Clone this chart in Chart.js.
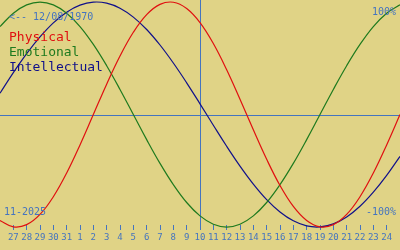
<!DOCTYPE html>
<html>
<head>
<meta charset="utf-8">
<script src="https://cdn.jsdelivr.net/npm/chart.js@4"></script>
<style>
  body { margin: 0; background: #e0d386; }
  #wrap { width: 400px; height: 250px; position: relative; }
</style>
</head>
<body>
<div id="wrap"><canvas id="bio"></canvas></div>
<script>
// day-of-month labels, 27 Oct .. 24 Nov 2025 (index 0..28)
var dayLabels = [27,28,29,30,31,1,2,3,4,5,6,7,8,9,10,11,12,13,14,15,16,17,18,19,20,21,22,23,24];
var todayIndex = 14; // 10 Nov

// curve values for index -1 .. 29 (one per day, incl. the half-visible edges)
var physical = [-0.942,-0.998,-0.979,-0.888,-0.731,-0.520,-0.270,0,0.270,0.520,0.731,0.888,0.979,0.998,0.942,0.817,0.631,0.398,0.136,-0.136,-0.398,-0.631,-0.817,-0.942,-0.998,-0.979,-0.888,-0.731,-0.520,-0.270,0];
var emotional = [0.782,0.901,0.975,1,0.975,0.901,0.782,0.623,0.434,0.223,0,-0.223,-0.434,-0.623,-0.782,-0.901,-0.975,-1,-0.975,-0.901,-0.782,-0.623,-0.434,-0.223,0,0.223,0.434,0.623,0.782,0.901,0.975];
var intellectual = [0.189,0.372,0.541,0.690,0.815,0.910,0.972,0.999,0.990,0.945,0.866,0.756,0.618,0.458,0.282,0.095,-0.095,-0.282,-0.458,-0.618,-0.756,-0.866,-0.945,-0.990,-0.999,-0.972,-0.910,-0.815,-0.690,-0.541,-0.372];

var blue = '#4474bf';
var mono = '"DejaVu Sans Mono", monospace';

function pts(arr) {
  return arr.map(function(v, i) { return { x: i - 1, y: v }; });
}

var overlay = {
  id: 'overlay',
  beforeDatasetsDraw: function(chart) {
    var c = chart.ctx, xs = chart.scales.x, ys = chart.scales.y;
    var y0 = Math.round(ys.getPixelForValue(0)) + 0.5;
    var xt = Math.round(xs.getPixelForValue(todayIndex)) + 0.5;
    c.save();
    c.strokeStyle = blue;
    c.lineWidth = 1;
    c.beginPath();
    c.moveTo(0, y0); c.lineTo(chart.width, y0);
    c.moveTo(xt, 0); c.lineTo(xt, chart.chartArea.bottom + 5);
    c.stroke();
    c.restore();
  },
  afterDraw: function(chart) {
    var c = chart.ctx;
    c.save();
    c.textBaseline = 'middle';
    c.font = '10px ' + mono;
    c.fillStyle = blue;
    c.textAlign = 'left';
    c.fillText('<-- 12/08/1970', 9, 17);
    c.fillText('11-2025', 4, 212);
    c.textAlign = 'right';
    c.fillText('100%', 396, 12);
    c.fillText('-100%', 396, 212);
    c.textAlign = 'left';
    c.font = '13px ' + mono;
    c.fillStyle = '#e01010';
    c.fillText('Physical', 9, 38);
    c.fillStyle = '#1e7a1e';
    c.fillText('Emotional', 9, 53);
    c.fillStyle = '#10108a';
    c.fillText('Intellectual', 9, 68);
    c.restore();
  }
};

new Chart(document.getElementById('bio'), {
  type: 'line',
  data: {
    datasets: [
      { label: 'Physical', data: pts(physical), borderColor: '#e01010' },
      { label: 'Emotional', data: pts(emotional), borderColor: '#1e7a1e' },
      { label: 'Intellectual', data: pts(intellectual), borderColor: '#10108a' }
    ]
  },
  options: {
    responsive: true,
    maintainAspectRatio: false,
    animation: false,
    layout: { padding: 0 },
    elements: {
      line: { borderWidth: 1.2, tension: 0.4, fill: false },
      point: { radius: 0 }
    },
    datasets: { line: { clip: false } },
    plugins: { legend: { display: false }, tooltip: { enabled: false } },
    scales: {
      x: {
        type: 'linear',
        min: -1,
        max: 29,
        afterFit: function(s) { s.height = 25; },
        afterBuildTicks: function(s) {
          var t = [];
          for (var i = 0; i < dayLabels.length; i++) t.push({ value: i });
          s.ticks = t;
        },
        border: { display: false },
        grid: { drawOnChartArea: false, drawTicks: true, tickLength: 5, color: blue },
        ticks: {
          autoSkip: false,
          maxRotation: 0,
          padding: 2,
          color: blue,
          font: { family: mono, size: 9 },
          callback: function(v) { return dayLabels[v]; }
        }
      },
      y: {
        display: false,
        min: -0.982,
        max: 1.018
      }
    }
  },
  plugins: [overlay]
});
</script>
</body>
</html>
